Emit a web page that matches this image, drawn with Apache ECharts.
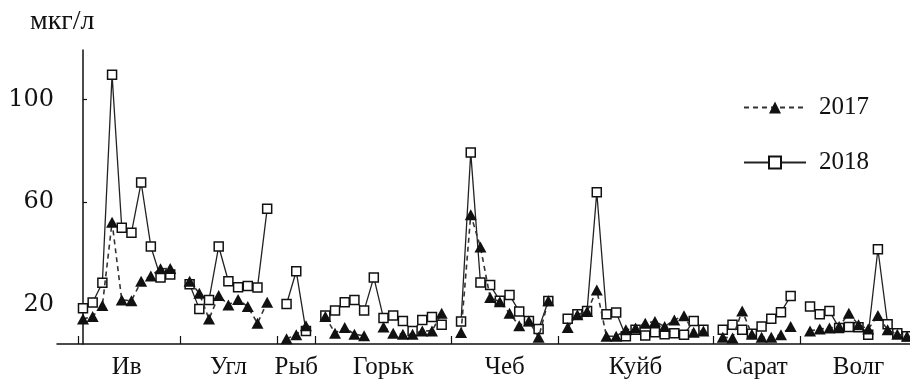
<!DOCTYPE html>
<html>
<head>
<meta charset="utf-8">
<script src="https://cdn.jsdelivr.net/npm/echarts@6/dist/echarts.min.js"></script>
<style>
html,body{margin:0;padding:0;background:#fff;}
#chart{width:910px;height:380px;}
</style>
</head>
<body>
<div id="chart"></div>
<script>
// ---- data ----
const groups = ['Ив', 'Угл', 'Рыб', 'Горьк', 'Чеб', 'Куйб', 'Сарат', 'Волг'];
const seriesNames = ['2017', '2018'];
const yTicks = [20, 60, 100];
const yUnit = 'мкг/л';

const iv2017 = [14.2, 15.2, 19.5, 52.1, 21.7, 21.4, 29, 31.1, 33.9, 34];
const iv2018 = [18.4, 20.7, 28.4, 109.7, 49.9, 48, 67.6, 42.6, 30.5, 31.6];
const ugl2017 = [29, 24.3, 14.2, 23.4, 19.7, 21.9, 19.1, 12.6, 20.8];
const ugl2018 = [27.8, 18.2, 21.7, 42.6, 29, 26.7, 27.1, 26.6, 57.3];
const ryb2017 = [6.5, 8.1, 11.6];
const ryb2018 = [20.1, 32.9, 9.6];
const gork2017 = [15.2, 8.7, 10.9, 8.3, 7.7, null, 11.1, 8.7, 8.3, 8.3, 9.6, 9.6, 16.5];
const gork2018 = [15.6, 17.6, 20.8, 21.7, 17.6, 30.5, 14.6, 15.6, 13.5, 9.6, 13.9, 15, 12];
const cheb2017 = [9, 55, 42.4, 22.6, 21, 16.5, 11.6, 13.5, 7.1, 21.4];
const cheb2018 = [13.3, 79.3, 28.5, 27.5, 21.4, 23.6, 17.2, 13.5, 10.3, 21.3];
const kuib2017 = [10.9, 15.9, 17.2, 25.6, 7.5, 7.5, 10, 10.7, 12.6, 13.3, 11.3, 13.9, 15.5, 9.1, 9.6];
const kuib2018 = [14.3, 16.1, 17.4, 63.8, 16.1, 16.8, 7.5, 10, 7.8, 9.1, 8.3, 8.7, 8.1, 13.5, 10];
const sar2017 = [7.1, 6.8, 17.4, 8.3, 7.1, 7.1, 8.1, 11.3];
const sar2018 = [10, 12, 10, 8.5, 11.3, 14.3, 16.9, 23.2];
const volg2017 = [9.6, 10.3, 10.7, 11.3, 16.5, 12, 10.3, 15.6, 10, 8.3, 7.5];
const volg2018 = [19.1, 16.1, 17.4, 10.7, 11.1, 11, 8.1, 41.5, 12.2, 8.7, 7.5];

const values2017 = [iv2017, ugl2017, ryb2017, gork2017, cheb2017, kuib2017, sar2017, volg2017];
const values2018 = [iv2018, ugl2018, ryb2018, gork2018, cheb2018, kuib2018, sar2018, volg2018];

// ---- build series on a slot axis (one empty slot between stations) ----
const d2017 = [], d2018 = [], labelPos = [], tickPos = [-0.5];
let slot = 0;
groups.forEach((g, gi) => {
  const a = values2017[gi], b = values2018[gi];
  const start = slot;
  for (let i = 0; i < a.length; i++) {
    d2017.push([slot, a[i]]);
    d2018.push([slot, b[i]]);
    slot++;
  }
  labelPos.push({ v: start + (a.length - 1) / 2, name: g });
  if (gi < groups.length - 1) {
    d2017.push([slot, null]);
    d2018.push([slot, null]);
    tickPos.push(slot);
    slot++;
  }
});
const lastSlot = slot - 1;

const serif = '"Liberation Serif", "Times New Roman", serif';

const chart = echarts.init(document.getElementById('chart'), null, { renderer: 'canvas' });
chart.setOption({
  animation: false,
  backgroundColor: '#fff',
  grid: { left: 57, right: 0, top: 50, bottom: 34, containLabel: false },
  graphic: [{
    type: 'text', left: 30, top: 8,
    style: { text: yUnit, font: '28px ' + serif, fill: '#111' }
  }],
  legend: {
    orient: 'vertical',
    left: 738,
    top: 90,
    itemWidth: 62,
    itemHeight: 15,
    itemGap: 30,
    textStyle: { fontFamily: serif, fontSize: 25, color: '#111', padding: [0, 0, 0, 8], lineHeight: 24 },
    data: seriesNames
  },
  xAxis: {
    type: 'value',
    min: -2.68,
    max: lastSlot + 0.31,
    splitLine: { show: false },
    axisLine: { onZero: false, lineStyle: { color: '#111', width: 1.5 } },
    axisTick: { show: true, inside: true, length: 8, customValues: tickPos, lineStyle: { color: '#111', width: 1.2 } },
    axisLabel: {
      customValues: labelPos.map(p => p.v),
      formatter: (v) => { const p = labelPos.find(q => Math.abs(q.v - v) < 1e-6); return p ? p.name : ''; },
      fontFamily: serif, fontSize: 25, color: '#111', margin: 11
    }
  },
  yAxis: {
    type: 'value',
    min: 4.47,
    max: 119.4,
    splitLine: { show: false },
    axisLine: { show: true, lineStyle: { color: '#111', width: 1.5 } },
    axisTick: { show: true, inside: true, length: 4, customValues: yTicks, lineStyle: { color: '#111', width: 1.2 } },
    axisLabel: { customValues: yTicks, fontFamily: '"DejaVu Serif", serif', fontSize: 24, color: '#111', margin: 3 }
  },
  series: [
    {
      name: seriesNames[1],
      type: 'line',
      data: d2018,
      connectNulls: false,
      symbol: 'rect',
      symbolSize: 9,
      lineStyle: { color: '#222', width: 1.3, type: 'solid' },
      itemStyle: { color: '#fff', borderColor: '#111', borderWidth: 1.5 },
      z: 2
    },
    {
      name: seriesNames[0],
      type: 'line',
      data: d2017,
      connectNulls: false,
      symbol: 'triangle',
      symbolSize: [12, 11],
      lineStyle: { color: '#333', width: 1.6, type: [5, 4] },
      itemStyle: { color: '#111', borderColor: '#111', borderWidth: 0 },
      z: 3
    }
  ]
});
</script>
</body>
</html>
